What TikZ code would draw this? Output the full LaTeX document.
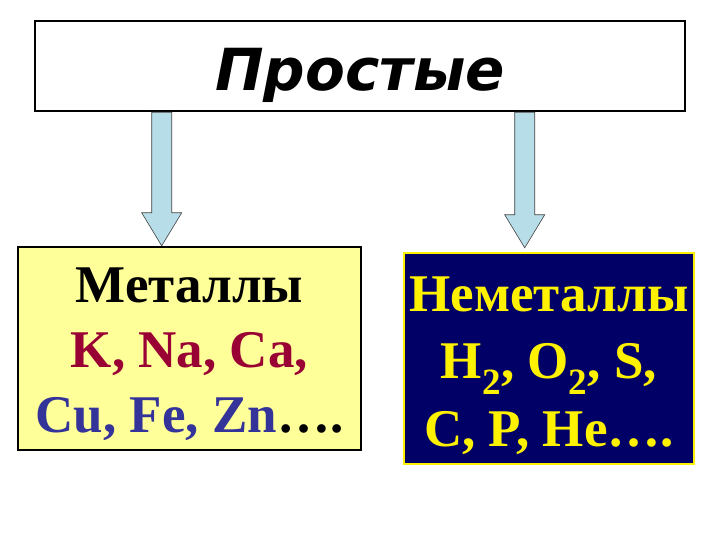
\documentclass[tikz,border=0pt]{standalone}
\usepackage{fontspec}
\setmainfont{Liberation Serif}
\newfontfamily\titlefont{DejaVu Sans}
\usetikzlibrary{calc,positioning}

\definecolor{paleyellow}{HTML}{FFFF99}
\definecolor{darkred}{HTML}{990033}
\definecolor{metalblue}{HTML}{333399}
\definecolor{navy}{HTML}{000066}
\definecolor{arrowblue}{HTML}{B7DDE8}

\tikzset{
  titlebox/.style={draw=black, line width=2.6pt, fill=white, minimum width=650pt, minimum height=90pt,
    font=\titlefont\bfseries\itshape\fontsize{58}{64}\selectfont},
  groupbox/.style={line width=2.4pt, inner sep=0pt},
  grouptext/.style={align=center, inner sep=0pt, font=\bfseries\fontsize{53}{65}\selectfont},
  blockarrow/.style={draw=black!75, line width=0.6pt, fill=arrowblue, line join=miter}
}

% block arrow from #1 down to #2
\newcommand{\blockdown}[2]{%
  \draw[blockarrow] ($(#1)+(-10pt,0)$) -- ($(#2)+(-10pt,33pt)$) -- ($(#2)+(-20pt,33pt)$)
    -- (#2) -- ($(#2)+(20pt,33pt)$) -- ($(#2)+(10pt,33pt)$) -- ($(#1)+(10pt,0)$) -- cycle;}

\begin{document}
\begin{tikzpicture}
\useasboundingbox (0,0) rectangle (720pt,-540pt);

% the boxes
\node[titlebox] (title) at (360pt,-66pt) {\raisebox{-25pt}[0pt][0pt]{Простые}};
\node[groupbox, draw=black, fill=paleyellow, minimum width=343pt, minimum height=203pt]
  (metals) at (189.5pt,-348.5pt) {};
\node[grouptext] (metalstext) at ([yshift=-6pt]metals.center)
  {Металлы\\ \textcolor{darkred}{K, Na, Ca,}\\ \textcolor{metalblue}{Cu, Fe, Zn}….};
\node[groupbox, draw=yellow, fill=navy, minimum width=290pt, minimum height=211pt]
  (nonmetals) at (549pt,-358.5pt) {};
\node[grouptext, text=yellow] (nonmetalstext) at ([yshift=-7pt]nonmetals.center)
  {Неметаллы\\[2pt] H\textsubscript{2}, O\textsubscript{2}, S,\\[3pt] C, P, He….};

% arrows
\coordinate (lfrom) at ($(title.south west)+(128pt,0)$);
\coordinate (rfrom) at ($(title.south west)+(491pt,0)$);
\coordinate (lto) at (lfrom |- metals.north);
\coordinate (rto) at ($(rfrom |- nonmetals.north)+(0,4pt)$);
\blockdown{lfrom}{lto}
\blockdown{rfrom}{rto}
\end{tikzpicture}
\end{document}
